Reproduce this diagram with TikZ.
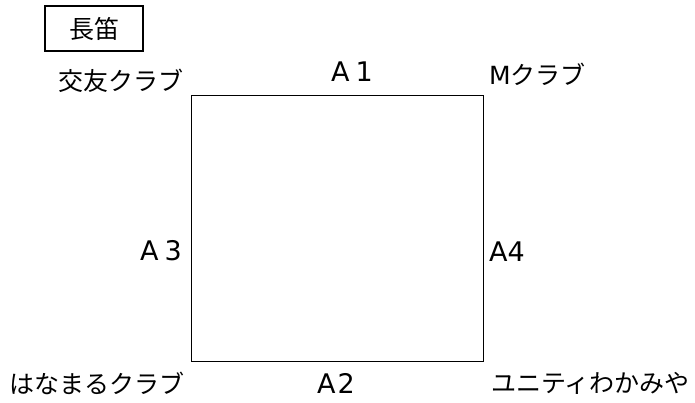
\documentclass[tikz,border=0pt]{standalone}
\usepackage{fontspec}
\setmainfont{Noto Sans CJK JP}
\newfontfamily\latinfont{DejaVu Sans}
\begin{document}
\begin{tikzpicture}[x=1pt,y=-1pt,
  lbl/.style={inner sep=0pt,font=\fontsize{25}{29}\selectfont},
  alb/.style={inner sep=0pt,font=\fontsize{27}{31}\latinfont},
  titlebox/.style={draw,line width=1.8pt,minimum width=98pt,minimum height=45pt,inner sep=0pt,font=\fontsize{25}{29}\selectfont},
  court/.style={draw,line width=0.9pt,minimum width=292pt,minimum height=266pt,inner sep=0pt}]
\useasboundingbox (0,0) rectangle (695,403);
\node[titlebox] (title) at (94,28.5) {長笛};
\node[court] (sq) at (337,228) {};
\node[lbl,anchor=east] (koyu) at (184,81) {交友クラブ};
\node[lbl,anchor=west] (mclub) at (489,74) {{\latinfont M}クラブ};
\node[alb] (a1) at (352,72) {A\hspace{6pt}1};
\node[alb,anchor=east] (a3) at (182,251) {A\hspace{6pt}3};
\node[alb,anchor=west] (a4) at (489,252) {A4};
\node[alb] (a2) at (336,383) {A\hspace{2pt}2};
\node[lbl,anchor=east] (hana) at (185,383) {はなまるクラブ};
\node[lbl,anchor=west] (unity) at (491,383) {ユニティわかみや};
\end{tikzpicture}
\end{document}
